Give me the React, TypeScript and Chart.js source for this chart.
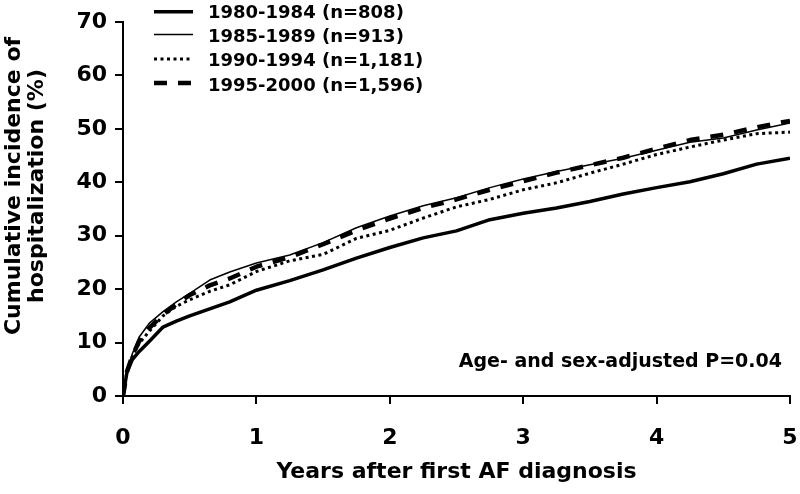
import React, { useEffect, useRef } from "react";
import { Chart, registerables } from "chart.js";

Chart.register(...registerables);

// Years after first AF diagnosis (x positions of the read-off points)
const years = [0, 0.03, 0.07, 0.12, 0.2, 0.3, 0.4, 0.5, 0.65, 0.8, 1.0, 1.25, 1.5, 1.75, 2.0, 2.25, 2.5, 2.75, 3.0, 3.25, 3.5, 3.75, 4.0, 4.25, 4.5, 4.75, 5.0];

// Cumulative incidence of hospitalization (%)
const s1980 = [0, 4.5, 6.8, 8.3, 10.3, 12.9, 14.0, 15.0, 16.3, 17.6, 19.8, 21.6, 23.6, 25.8, 27.8, 29.6, 30.9, 33.0, 34.2, 35.2, 36.4, 37.8, 39.0, 40.1, 41.6, 43.4, 44.5];
const s1985 = [0, 4.8, 7.9, 11.0, 13.7, 15.8, 17.6, 19.2, 21.7, 23.2, 24.9, 26.4, 28.7, 31.5, 33.7, 35.6, 37.1, 39.0, 40.6, 42.0, 43.3, 44.5, 46.0, 47.5, 48.3, 49.8, 51.1];
const s1990 = [0, 4.6, 7.4, 9.8, 12.2, 15.0, 16.8, 18.0, 19.6, 20.8, 23.3, 25.3, 26.5, 29.5, 31.0, 33.3, 35.4, 36.8, 38.6, 39.9, 41.7, 43.4, 45.2, 46.6, 47.9, 49.1, 49.4];
const s1995 = [0, 4.6, 7.5, 10.2, 12.8, 15.2, 17.2, 18.9, 20.7, 22.0, 24.2, 26.0, 28.4, 31.0, 33.2, 35.2, 36.8, 38.6, 40.2, 41.8, 43.2, 44.6, 46.3, 47.9, 48.9, 50.3, 51.5];

const seriesLabels = ["1980-1984 (n=808)", "1985-1989 (n=913)", "1990-1994 (n=1,181)", "1995-2000 (n=1,596)"];
const xRange = [0, 5];
const yRange = [0, 70];
const xStep = 1;
const yStep = 10;
const xTitle = "Years after first AF diagnosis";
const yTitle = ["Cumulative incidence of", "hospitalization (%)"];
const annotation = "Age- and sex-adjusted P=0.04";

const FONT = "'DejaVu Sans', sans-serif";

const lineStyles = [
  { width: 3.5, dash: [] as number[] },
  { width: 1.5, dash: [] as number[] },
  { width: 3, dash: [3, 3.5] },
  { width: 4.5, dash: [13, 11] },
];

const textPlugin = {
  id: "customText",
  afterDraw(chart: any) {
    const ctx = chart.ctx as CanvasRenderingContext2D;
    const area = chart.chartArea;
    ctx.save();
    ctx.fillStyle = "#000";
    ctx.strokeStyle = "#000";

    // Legend
    const lineY = [11.7, 34.5, 59, 83];
    const textY = [18.3, 41.7, 66.3, 90.5];
    ctx.font = `bold 18px ${FONT}`;
    ctx.textAlign = "left";
    ctx.textBaseline = "alphabetic";
    seriesLabels.forEach((label, i) => {
      const st = lineStyles[i];
      ctx.beginPath();
      ctx.lineWidth = st.width;
      ctx.setLineDash(st.dash);
      ctx.lineCap = "butt";
      ctx.moveTo(154, lineY[i]);
      ctx.lineTo(193, lineY[i]);
      ctx.stroke();
      ctx.setLineDash([]);
      ctx.fillText(label, 208, textY[i]);
    });

    // Annotation
    ctx.font = `bold 19px ${FONT}`;
    ctx.textAlign = "right";
    ctx.fillText(annotation, 782, 366.5);

    // X title
    ctx.font = `bold 22px ${FONT}`;
    ctx.textAlign = "center";
    ctx.fillText(xTitle, (area.left + area.right) / 2, 478);

    // Y title
    ctx.translate(0, 186);
    ctx.rotate(-Math.PI / 2);
    ctx.fillText(yTitle[0], 0, 20);
    ctx.fillText(yTitle[1], 0, 43);
    ctx.restore();
  },
};

export default function App() {
  const canvasRef = useRef<HTMLCanvasElement | null>(null);

  useEffect(() => {
    if (!canvasRef.current) return;
    const allSeries = [s1980, s1985, s1990, s1995];
    const chart = new Chart(canvasRef.current, {
      type: "line",
      data: {
        datasets: allSeries.map((vals, i) => ({
          label: seriesLabels[i],
          data: years.map((x, j) => ({ x, y: vals[j] })),
          borderColor: "#000",
          backgroundColor: "#000",
          borderWidth: lineStyles[i].width,
          borderDash: lineStyles[i].dash,
          borderCapStyle: "butt" as const,
          borderJoinStyle: "round" as const,
          pointRadius: 0,
          tension: 0,
          fill: false,
        })),
      },
      options: {
        responsive: false,
        animation: false,
        layout: { padding: { top: 22, right: 0, left: 0, bottom: 0 } },
        plugins: {
          legend: { display: false },
          tooltip: { enabled: false },
          title: { display: false },
        },
        scales: {
          x: {
            type: "linear",
            min: xRange[0],
            max: xRange[1],
            afterFit: (s: any) => {
              s.height = 98;
              s.paddingRight = 10;
            },
            ticks: {
              stepSize: xStep,
              color: "#000",
              font: { family: FONT, weight: "bold", size: 22 },
              padding: 21,
              maxRotation: 0,
            },
            grid: { drawOnChartArea: false, drawTicks: true, tickLength: 8, color: "#000", lineWidth: 2 },
            border: { display: true, color: "#000", width: 2 },
          },
          y: {
            min: yRange[0],
            max: yRange[1],
            afterFit: (s: any) => {
              s.width = 123;
            },
            ticks: {
              stepSize: yStep,
              color: "#000",
              font: { family: FONT, weight: "bold", size: 22 },
              padding: 8,
            },
            grid: { drawOnChartArea: false, drawTicks: true, tickLength: 8, color: "#000", lineWidth: 2 },
            border: { display: true, color: "#000", width: 2 },
          },
        },
      },
      plugins: [textPlugin],
    });
    return () => chart.destroy();
  }, []);

  return (
    <div style={{ position: "absolute", left: 0, top: 0, width: 800, height: 494, background: "#fff" }}>
      <canvas ref={canvasRef} width={800} height={494} />
    </div>
  );
}
